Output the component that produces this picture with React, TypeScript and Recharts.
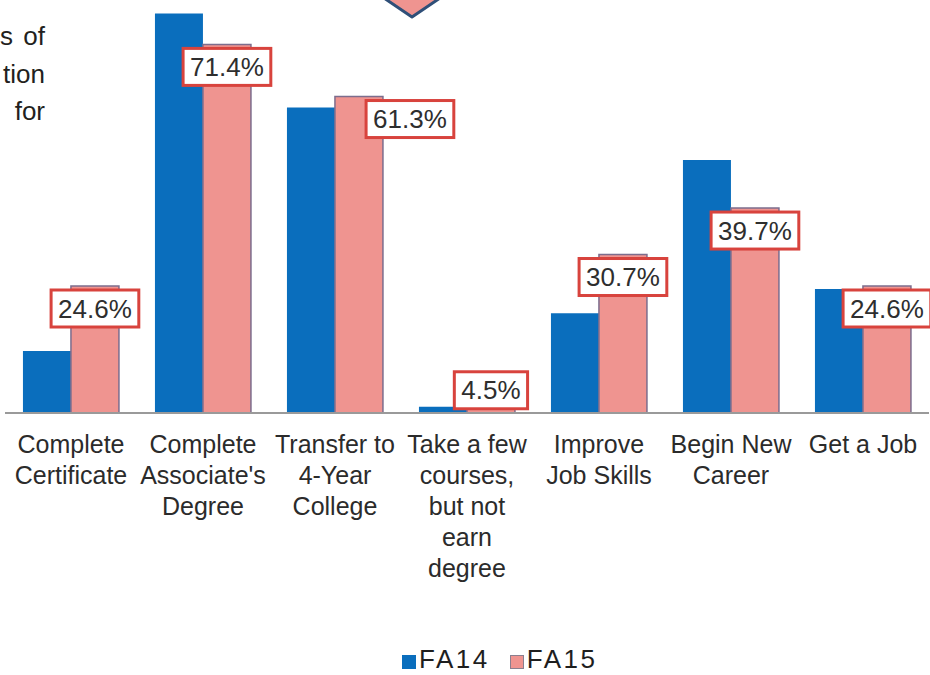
import React from "react";
import { BarChart, Bar, XAxis, YAxis, Legend, LabelList } from "recharts";

const CATEGORIES = [
  "Complete\nCertificate",
  "Complete\nAssociate's\nDegree",
  "Transfer to\n4-Year\nCollege",
  "Take a few\ncourses,\nbut not\nearn\ndegree",
  "Improve\nJob Skills",
  "Begin New\nCareer",
  "Get a Job",
];
const FA14 = [12.0, 77.4, 59.2, 1.2, 19.3, 49.0, 24.0];
const FA15 = [24.6, 71.4, 61.3, 4.5, 30.7, 39.7, 24.6];
const SIDE_TEXT = ["of", "tion", "for"];

const BLUE = "#0a6ebd";
const PINK = "#ef9490";
const FONT = "'Liberation Sans', Arial, sans-serif";

const data = CATEGORIES.map((name, i) => ({ name, fa14: FA14[i], fa15: FA15[i] }));

const charW: Record<string, number> = { ".": 0.278, "%": 0.889 };
function textWidth(s: string, size: number) {
  return s.split("").reduce((w, c) => w + (charW[c] ?? 0.556), 0) * size;
}

function CategoryTick(props: any) {
  const { x, y, payload } = props;
  const lines = String(payload.value).split("\n");
  return (
    <text x={x} y={y} textAnchor="middle" fill="#2b2b2b" fontSize={25} fontFamily={FONT}>
      {lines.map((l, i) => (
        <tspan key={i} x={x} dy={i === 0 ? 40 : 31}>
          {l}
        </tspan>
      ))}
    </text>
  );
}

function BoxLabel(props: any) {
  const { x, y, width, height, value, index } = props;
  const txt = `${Number(value).toFixed(1)}%`;
  const w = textWidth(txt, 26) + 14;
  const h = 37;
  let cx = x + width / 2;
  let top = y + 4;
  if (index === 2) cx += 51;
  if (height < 40) top = y - 18;
  return (
    <g>
      <rect x={cx - w / 2} y={top} width={w} height={h} fill="#fff" stroke="#d8433d" strokeWidth={3} />
      <text x={cx} y={top + h / 2 + 9} textAnchor="middle" fill="#2e2e2e" fontSize={26} fontFamily={FONT}>
        {txt}
      </text>
    </g>
  );
}

function LegendContent() {
  const items = [
    { label: "FA14", color: BLUE, border: BLUE },
    { label: "FA15", color: PINK, border: "#8a7f8f" },
  ];
  return (
    <div style={{ height: 32, display: "flex", alignItems: "center", paddingLeft: 397, fontFamily: FONT }}>
      {items.map((it) => (
        <div key={it.label} style={{ display: "flex", alignItems: "center", marginRight: 20 }}>
          <span
            style={{
              width: 12,
              height: 12,
              background: it.color,
              border: `1px solid ${it.border}`,
              marginRight: 3,
              marginTop: 5,
            }}
          />
          <span style={{ fontSize: 26, letterSpacing: 2.5, color: "#1e1e1e" }}>{it.label}</span>
        </div>
      ))}
    </div>
  );
}

export default function App() {
  return (
    <div style={{ position: "absolute", left: 0, top: 0, width: 930, height: 675, background: "#fff", overflow: "hidden" }}>
      <BarChart
        width={930}
        height={675}
        data={data}
        margin={{ top: 0, right: 1, left: 5, bottom: 0 }}
        barCategoryGap="13.6%"
        barGap={0}
      >
        <XAxis
          dataKey="name"
          interval={0}
          height={230}
          tick={<CategoryTick />}
          tickLine={false}
          tickSize={0}
          tickMargin={0}
          axisLine={{ stroke: "#9a9a9a", strokeWidth: 2 }}
        />
        <YAxis hide domain={[0, 80]} />
        <Legend verticalAlign="bottom" content={<LegendContent />} />
        <Bar dataKey="fa14" fill={BLUE} isAnimationActive={false} />
        <Bar dataKey="fa15" fill={PINK} stroke="#7c6d8d" strokeWidth={1.5} isAnimationActive={false}>
          <LabelList dataKey="fa15" content={<BoxLabel />} />
        </Bar>
      </BarChart>
      <svg width={930} height={140} style={{ position: "absolute", left: 0, top: 0, pointerEvents: "none" }}>
        <polygon points="381,-4 412,17 443,-4" fill={PINK} stroke="#2f4f78" strokeWidth={3} strokeLinejoin="round" />
        <text x={0} y={45} fontSize={26} fill="#231f20" fontFamily={FONT}>
          s
        </text>
        {SIDE_TEXT.map((t, i) => (
          <text key={t} x={45} y={45 + i * 37.5} textAnchor="end" fontSize={26} fill="#231f20" fontFamily={FONT}>
            {t}
          </text>
        ))}
      </svg>
    </div>
  );
}
